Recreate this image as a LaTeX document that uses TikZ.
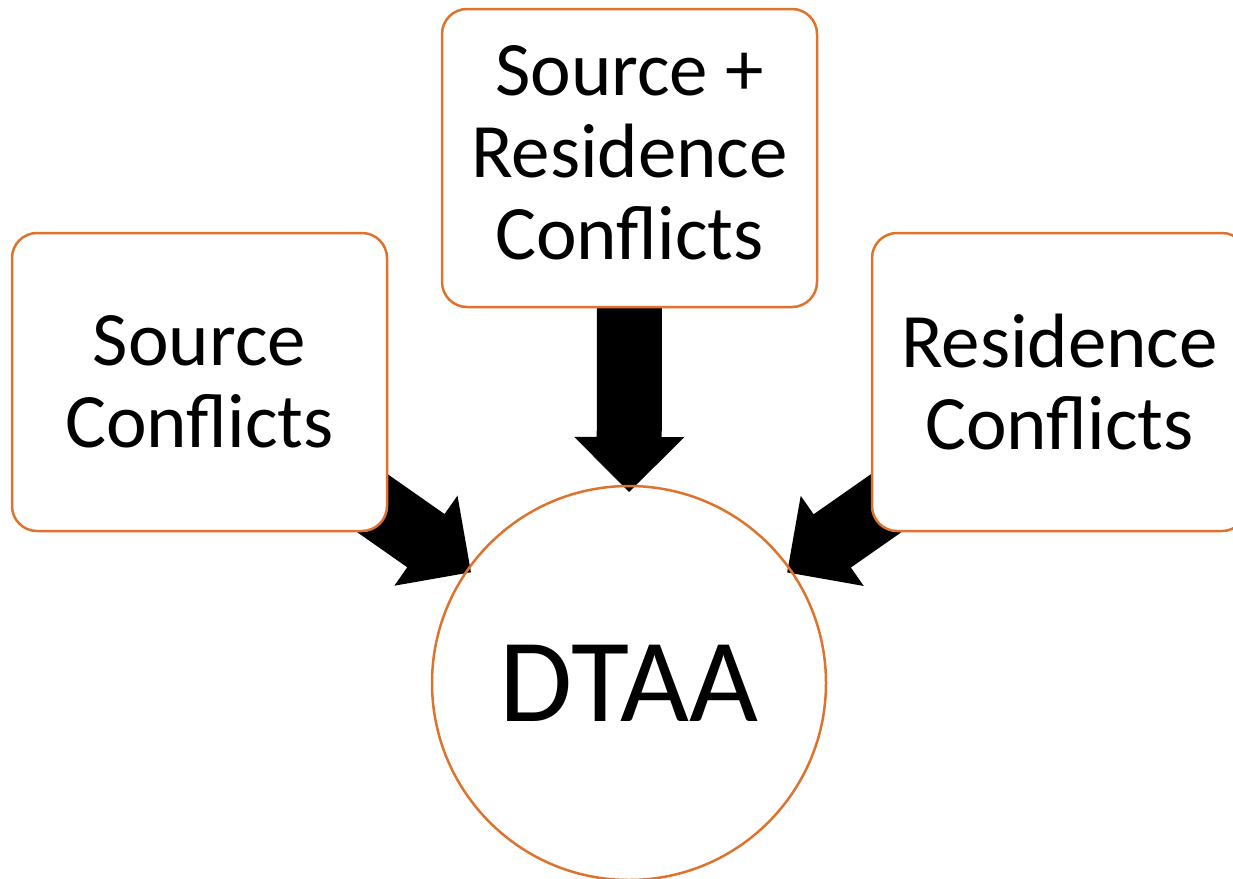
\documentclass[tikz,border=0pt]{standalone}
\usepackage{fontspec}
\setmainfont{Carlito}
\usetikzlibrary{calc}
\definecolor{boxorange}{RGB}{221,115,45}
\pgfdeclarelayer{back}
\pgfsetlayers{back,main}
\tikzset{
  boxtext/.style={align=center, inner sep=0pt,
    font=\fontsize{77}{82}\selectfont},
  conflict/.style={boxtext, draw=boxorange, line width=2.5pt, fill=white,
    rounded corners=25pt, minimum width=375pt, minimum height=298pt},
  treaty/.style={circle, draw=boxorange, line width=2.5pt,
    minimum size=394pt, inner sep=0pt, font=\fontsize{119}{124}\selectfont},
  thickarrow/.style={fill=black}
}
% Block arrow from the centre of #1 towards the centre of #2,
% its tip #3 points inside #2.
\newcommand{\blockarrow}[3]{%
  \coordinate (tip) at ($(#2.center)!#3!(#1.center)$);
  \coordinate (base) at ($(tip)!55pt!(#1.center)$);
  \fill[thickarrow]
    ($(#1.center)!32.5pt!90:(tip)$) --
    ($(base)!32.5pt!-90:(#1.center)$) --
    ($(base)!55pt!-90:(#1.center)$) --
    (tip) --
    ($(base)!55pt!90:(#1.center)$) --
    ($(base)!32.5pt!90:(#1.center)$) --
    ($(#1.center)!32.5pt!-90:(tip)$) -- cycle;
}
\begin{document}
\begin{tikzpicture}[x=1pt, y=-1pt]
  \clip (0,0) rectangle (1233,878);
  \node[treaty] (dtaa) at (629,683) {DTAA};
  \node[conflict] (both) at (629.5,158) {};
  \node[boxtext] (bothtext) at ([yshift=5pt]both.center) {Source +\\Residence\\Conflicts};
  \node[conflict] (source) at (199.5,382) {Source\\Conflicts};
  \node[conflict] (residence) at (1059.5,382) {Residence\\Conflicts};
  \begin{pgfonlayer}{back}
    \blockarrow{both}{dtaa}{191pt}
    \blockarrow{source}{dtaa}{193pt}
    \blockarrow{residence}{dtaa}{193pt}
  \end{pgfonlayer}
\end{tikzpicture}
\end{document}
